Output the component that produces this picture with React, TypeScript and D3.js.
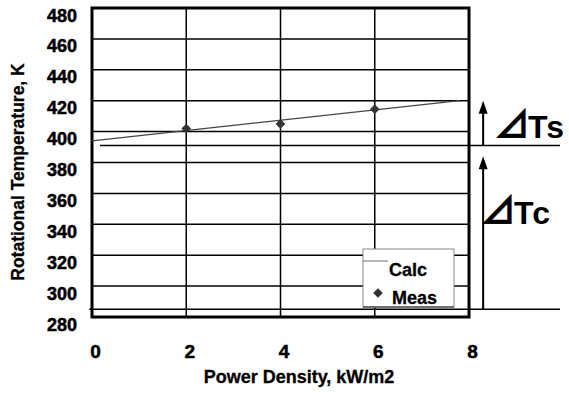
import React from "react";
import * as d3 from "d3";

const W = 569;
const H = 396;

const yTicks = [280, 300, 320, 340, 360, 380, 400, 420, 440, 460, 480];
const xTicks = [0, 2, 4, 6, 8];
const xGrid = [2, 4, 6];

// Calculated line (Power density kW/m2 -> K)
const calcX = [0, 7.8];
const calcY = [394, 420];

// Measured points
const measX = [2, 4, 6];
const measY = [402, 405, 414.5];

// Annotation levels (K)
const tsLevel = 391;
const tsTop = 420;
const tcBase = 285;
const tcTop = 384;

const FONT = "'Liberation Sans', Arial, Helvetica, sans-serif";

export default function App() {
  const x = d3.scaleLinear().domain([0, 8]).range([92, 469]);
  const y = d3.scaleLinear().domain([280, 480]).range([317, 8]);

  const calcLine = d3
    .line<number>()
    .x((_, i) => x(calcX[i]))
    .y((d) => y(d));

  const diamond = d3.symbol().type(d3.symbolDiamond2 ?? d3.symbolDiamond).size(60)();

  const arrowX = x(8.3);

  const arrow = (from: number, to: number) => {
    const yb = y(from);
    const yt = y(to);
    return (
      <g>
        <line x1={arrowX} x2={arrowX} y1={yb} y2={yt + 10} stroke="#000" strokeWidth={2} />
        <path
          d={`M${arrowX},${yt} L${arrowX - 4.5},${yt + 13} L${arrowX + 4.5},${yt + 13} Z`}
          fill="#000"
        />
      </g>
    );
  };

  const heavy = { stroke: "#000", strokeWidth: 0.5 };

  return (
    <svg
      width={W}
      height={H}
      style={{ position: "absolute", left: 0, top: 0, background: "#fff" }}
      fontFamily={FONT}
    >
      <rect x={0} y={0} width={W} height={H} fill="#fff" />

      {/* horizontal grid */}
      {yTicks.slice(1, -1).map((t) => (
        <line key={"hy" + t} x1={x(0)} x2={x(8)} y1={y(t)} y2={y(t)} stroke="#000" strokeWidth={1.5} />
      ))}
      {/* vertical grid */}
      {xGrid.map((t) => (
        <line key={"vx" + t} x1={x(t)} x2={x(t)} y1={y(480)} y2={y(280)} stroke="#000" strokeWidth={1.5} />
      ))}

      {/* annotation lines */}
      <line x1={x(0.17)} x2={x(9.93)} y1={y(tsLevel)} y2={y(tsLevel)} stroke="#000" strokeWidth={1.5} />
      <line x1={x(-0.06)} x2={x(9.93)} y1={y(tcBase)} y2={y(tcBase)} stroke="#000" strokeWidth={1.5} />

      {/* frame */}
      <rect
        x={x(0)}
        y={y(480)}
        width={x(8) - x(0)}
        height={y(280) - y(480)}
        fill="none"
        stroke="#000"
        strokeWidth={3}
      />

      {/* calc line */}
      <path d={calcLine(calcY) ?? ""} fill="none" stroke="#444" strokeWidth={1.2} />

      {/* measured */}
      {measX.map((v, i) => (
        <path key={"m" + i} d={diamond ?? ""} transform={`translate(${x(v)},${y(measY[i])})`} fill="#333" />
      ))}

      {/* y tick labels */}
      {yTicks.map((t) => (
        <text key={"yt" + t} x={77} y={y(t) + 13.5} textAnchor="end" fontSize={18} fontWeight="bold" {...heavy}>
          {t}
        </text>
      ))}
      {/* x tick labels */}
      {xTicks.map((t) => (
        <text key={"xt" + t} x={x(t) + 3.5} y={358} textAnchor="middle" fontSize={19} fontWeight="bold" {...heavy}>
          {t}
        </text>
      ))}

      {/* axis titles */}
      <text x={299} y={383} textAnchor="middle" fontSize={18} fontWeight="bold" {...heavy} strokeWidth={0.3}>
        Power Density, kW/m2
      </text>
      <text
        transform={`translate(24,${172}) rotate(-90)`}
        textAnchor="middle"
        fontSize={17.5}
        fontWeight="bold"
        {...heavy}
        strokeWidth={0.3}
      >
        Rotational Temperature, K
      </text>

      {/* legend */}
      <rect x={363} y={249} width={91} height={58} fill="#fff" stroke="#888" strokeWidth={1} />
      <line x1={363} x2={454} y1={307} y2={307} stroke="#555" strokeWidth={1.5} />
      <line x1={363} x2={388} y1={261} y2={261} stroke="#888" strokeWidth={1.2} />
      <text x={389} y={276} fontSize={18} fontWeight="bold" {...heavy} strokeWidth={0.3}>Calc</text>
      <path d={diamond ?? ""} transform="translate(378,293)" fill="#333" />
      <text x={392} y={304} fontSize={18} fontWeight="bold" {...heavy} strokeWidth={0.3}>Meas</text>

      {/* arrows */}
      {arrow(tsLevel, tsTop)}
      {arrow(tcBase, tcTop)}

      {/* annotation labels */}
      <text x={494} y={138} fontWeight="bold" fontSize={32} letterSpacing={1}>
        <tspan fontFamily="'Noto Sans CJK JP'" fontSize={36} stroke="#000" strokeWidth={0.6} letterSpacing={-2}>⊿</tspan>
        <tspan>Ts</tspan>
      </text>
      <text x={480} y={224} fontWeight="bold" fontSize={32} letterSpacing={1}>
        <tspan fontFamily="'Noto Sans CJK JP'" fontSize={36} stroke="#000" strokeWidth={0.6} letterSpacing={-2}>⊿</tspan>
        <tspan>Tc</tspan>
      </text>
    </svg>
  );
}
